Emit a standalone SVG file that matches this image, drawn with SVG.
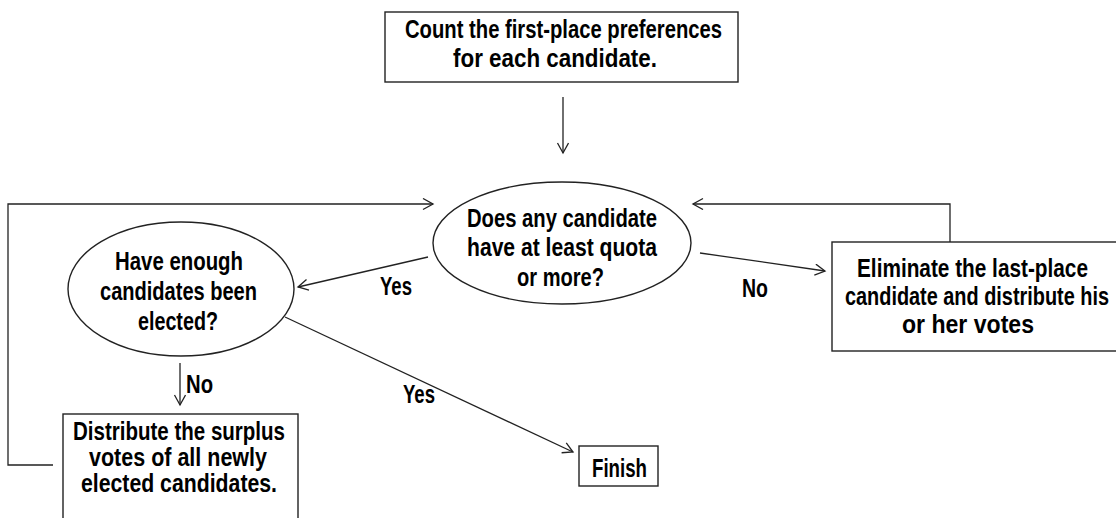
<svg xmlns="http://www.w3.org/2000/svg" width="1116" height="518" viewBox="0 0 1116 518">
<style>
.shape{fill:#fff;stroke:#222;stroke-width:1.4}
.conn{fill:none;stroke:#222;stroke-width:1.3}
text{font-family:"Liberation Sans",Arial,sans-serif;font-weight:bold;font-size:25px;fill:#000}
</style>
<defs>
<marker id="arr" markerUnits="userSpaceOnUse" markerWidth="14" markerHeight="14" refX="11" refY="6" orient="auto">
<path d="M1,0.5 L11,6 L1,11.5" fill="none" stroke="#222" stroke-width="1.3"/>
</marker>
</defs>
<g id="connectors">
<path class="conn" d="M563,97 V153" marker-end="url(#arr)"/>
<path class="conn" d="M53,465 H8 V204 H433" marker-end="url(#arr)"/>
<path class="conn" d="M950,242 V204 H693" marker-end="url(#arr)"/>
<path class="conn" d="M428,257 L298,287" marker-end="url(#arr)"/>
<path class="conn" d="M700,253 L825,271" marker-end="url(#arr)"/>
<path class="conn" d="M180,363 V405" marker-end="url(#arr)"/>
<path class="conn" d="M285,317 L573,452" marker-end="url(#arr)"/>
<text x="380" y="295" textLength="32" lengthAdjust="spacingAndGlyphs">Yes</text>
<text x="742" y="297" textLength="26" lengthAdjust="spacingAndGlyphs">No</text>
<text x="186" y="393" textLength="27" lengthAdjust="spacingAndGlyphs">No</text>
<text x="403" y="403" textLength="32" lengthAdjust="spacingAndGlyphs">Yes</text>
</g>
<g id="count">
<rect class="shape" x="385" y="12" width="353" height="70"/>
<text x="405" y="38" textLength="317" lengthAdjust="spacingAndGlyphs">Count the first-place preferences</text>
<text x="453" y="67" textLength="204" lengthAdjust="spacingAndGlyphs">for each candidate.</text>
</g>
<g id="quota">
<ellipse class="shape" cx="562" cy="243" rx="129" ry="61"/>
<text x="467" y="227" textLength="190" lengthAdjust="spacingAndGlyphs">Does any candidate</text>
<text x="467" y="256" textLength="190" lengthAdjust="spacingAndGlyphs">have at least quota</text>
<text x="517" y="286" textLength="87" lengthAdjust="spacingAndGlyphs">or more?</text>
</g>
<g id="enough">
<ellipse class="shape" cx="181" cy="289" rx="113" ry="67"/>
<text x="115" y="270" textLength="128" lengthAdjust="spacingAndGlyphs">Have enough</text>
<text x="100" y="300" textLength="157" lengthAdjust="spacingAndGlyphs">candidates been</text>
<text x="138" y="330" textLength="80" lengthAdjust="spacingAndGlyphs">elected?</text>
</g>
<g id="eliminate">
<rect class="shape" x="832" y="242" width="290" height="109"/>
<text transform="translate(857,277) scale(0.75,1)" x="0" y="0" textLength="308" lengthAdjust="spacingAndGlyphs">Eliminate the last-place</text>
<text transform="translate(845,305) scale(0.75,1)" x="0" y="0" textLength="352" lengthAdjust="spacingAndGlyphs">candidate and distribute his</text>
<text transform="translate(902,333) scale(0.75,1)" x="0" y="0" textLength="176" lengthAdjust="spacingAndGlyphs">or her votes</text>
</g>
<g id="distribute">
<rect class="shape" x="63" y="414" width="235" height="120"/>
<text x="73" y="440" textLength="212" lengthAdjust="spacingAndGlyphs">Distribute the surplus</text>
<text x="89" y="466" textLength="178" lengthAdjust="spacingAndGlyphs">votes of all newly</text>
<text x="81" y="492" textLength="196" lengthAdjust="spacingAndGlyphs">elected candidates.</text>
</g>
<g id="finish">
<rect class="shape" x="579" y="446" width="79" height="40"/>
<text x="592" y="477" textLength="55" lengthAdjust="spacingAndGlyphs">Finish</text>
</g>
</svg>
